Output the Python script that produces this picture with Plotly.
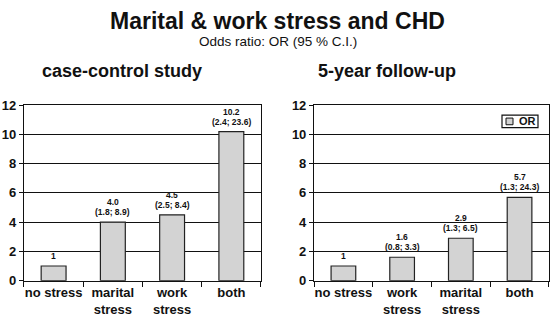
import plotly.graph_objects as go

cats_cc = ["no stress", "marital<br>stress", "work<br>stress", "both"]
or_cc = [1, 4.0, 4.5, 10.2]
ci_cc = ["", "(1.8; 8.9)", "(2.5; 8.4)", "(2.4; 23.6)"]
lbl_cc = ["1", "4.0", "4.5", "10.2"]

cats_fu = ["no stress", "work<br>stress", "marital<br>stress", "both"]
or_fu = [1, 1.6, 2.9, 5.7]
ci_fu = ["", "(0.8; 3.3)", "(1.3; 6.5)", "(1.3; 24.3)"]
lbl_fu = ["1", "1.6", "2.9", "5.7"]

y_ticks = [0, 2, 4, 6, 8, 10, 12]
legend_name = "OR"

FONT = "Arial"
BAR_FILL = "#d3d3d3"
INK = "#111"

fig = go.Figure()
bar_style = dict(marker=dict(color=BAR_FILL, line=dict(color="#222", width=1.2)), width=0.42)
xs = list(range(4))
fig.add_trace(go.Bar(x=xs, y=or_cc, name=legend_name, showlegend=False, xaxis="x", yaxis="y", **bar_style))
fig.add_trace(go.Bar(x=xs, y=or_fu, name=legend_name, showlegend=False, xaxis="x2", yaxis="y2", **bar_style))

lab_font = dict(size=8.5, family=FONT, color=INK, weight="bold")
annotations = []
for xr, yr, vals, lbls, cis in [("x", "y", or_cc, lbl_cc, ci_cc), ("x2", "y2", or_fu, lbl_fu, ci_fu)]:
    for xi, v, l, c in zip(xs, vals, lbls, cis):
        shift = 4
        if c:
            annotations.append(dict(x=xi, y=v, xref=xr, yref=yr, text=c, showarrow=False,
                                    xanchor="center", yanchor="bottom", yshift=shift,
                                    borderpad=0, font=lab_font))
            shift += 10
        annotations.append(dict(x=xi, y=v, xref=xr, yref=yr, text=l, showarrow=False,
                                xanchor="center", yanchor="bottom", yshift=shift,
                                borderpad=0, font=lab_font))

ax_common = dict(showline=True, linecolor=INK, linewidth=1.2, mirror=True,
                 ticks="outside", ticklen=4, tickcolor=INK,
                 tickfont=dict(size=13, family=FONT, color=INK, weight="bold"))
xa = dict(ax_common, range=[-0.5, 3.5], tickmode="array", showgrid=False, zeroline=False)
ya = dict(ax_common, range=[0, 12], tickvals=y_ticks, showgrid=True, gridcolor=INK,
          gridwidth=1, zeroline=False)

annotations += [
    dict(text="<b>Marital & work stress and CHD</b>", x=0.505, y=1 - 15/322, xref="paper", yref="paper",
         showarrow=False, font=dict(size=23, family=FONT), xanchor="center", yanchor="middle"),
    dict(text="Odds ratio: OR (95 % C.I.)", x=0.505, y=1 - 36/322, xref="paper", yref="paper",
         showarrow=False, font=dict(size=13.5, family=FONT), xanchor="center", yanchor="middle"),
    dict(text="<b>case-control study</b>", x=122/550, y=1 - 67/322, xref="paper", yref="paper",
         showarrow=False, font=dict(size=18, family=FONT), xanchor="center", yanchor="middle"),
    dict(text="<b>5-year follow-up</b>", x=387/550, y=1 - 67/322, xref="paper", yref="paper",
         showarrow=False, font=dict(size=18, family=FONT), xanchor="center", yanchor="middle"),
    # legend text
    dict(text=f"<b>{legend_name}</b>", x=517/550, y=1 - 120/322, xref="paper", yref="paper",
         showarrow=False, font=dict(size=11, family=FONT), xanchor="left", yanchor="middle"),
]

shapes = [
    # legend frame
    dict(type="rect", xref="paper", yref="paper", x0=502/550, x1=538/550,
         y0=1 - 126.5/322, y1=1 - 113.5/322, line=dict(color=INK, width=1.2), fillcolor="white"),
    # legend swatch
    dict(type="rect", xref="paper", yref="paper", x0=506/550, x1=513/550,
         y0=1 - 123.5/322, y1=1 - 116.5/322, line=dict(color=INK, width=1), fillcolor=BAR_FILL),
]

fig.update_layout(
    width=550, height=322, margin=dict(l=0, r=0, t=0, b=0),
    paper_bgcolor="white", plot_bgcolor="white",
    font=dict(family=FONT, color=INK),
    xaxis=dict(xa, domain=[0.0436, 0.4745], tickvals=[0, 1, 2, 3], ticktext=cats_cc, anchor="y"),
    yaxis=dict(ya, domain=[0.1087, 0.680], anchor="x"),
    xaxis2=dict(xa, domain=[0.571, 0.998], tickvals=[0, 1, 2, 3], ticktext=cats_fu, anchor="y2"),
    yaxis2=dict(ya, domain=[0.1087, 0.680], anchor="x2"),
    bargap=0.58,
    showlegend=False,
    annotations=annotations,
    shapes=shapes,
)
# ticks at category boundaries
for ax in ["xaxis", "xaxis2"]:
    fig.layout[ax].update(minor=dict(tickvals=[-0.5, 0.5, 1.5, 2.5, 3.5], ticks="outside",
                                     ticklen=5, tickcolor=INK, showgrid=False))
    fig.layout[ax].update(ticklen=0)

fig.write_html("out.html")
